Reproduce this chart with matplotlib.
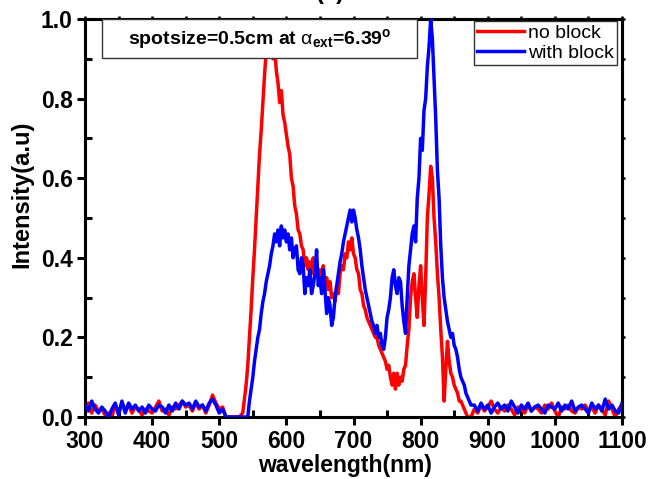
import numpy as np
import matplotlib
matplotlib.use("Agg")
import matplotlib.pyplot as plt
from matplotlib.patches import Rectangle

plt.rcParams['font.family'] = ['Liberation Sans', 'DejaVu Sans']
plt.rcParams['mathtext.fontset'] = 'custom'
plt.rcParams['mathtext.rm'] = 'Liberation Sans:bold'
plt.rcParams['mathtext.bf'] = 'Liberation Sans:bold'
plt.rcParams['mathtext.it'] = 'Liberation Sans'

# wavelength samples (nm): coarse on the flat baseline, finer across the emission band
wavelength = np.concatenate([np.arange(300, 540, 5),
                             np.arange(540, 877.5, 2.5),
                             np.arange(880, 1101, 5)])

# --- spectrum without the block ---
no_block_low = [
    0.02, 0.035, 0.01, 0.03, 0.015, 0.02, 0.005, 0.01, 0.0, 0.03,
    0.01, 0.035, 0.02, 0.03, 0.01, 0.025, 0.02, 0.005, 0.02, 0.015,
    0.01, 0.025, 0.04, 0.015, 0.02, 0.005, 0.025, 0.02, 0.03, 0.04,
    0.025, 0.03, 0.015, 0.035, 0.02, 0.03, 0.01, 0.03, 0.055, 0.035,
    0.02, 0.025,
    0.0, 0.0, 0.0, 0.0, 0.0, 0.01,
]
no_block_band = [
    0.08, 0.13, 0.2, 0.27, 0.35, 0.42, 0.5, 0.58, 0.66, 0.72,
    0.79, 0.86, 0.92, 0.97, 0.98, 0.94, 0.9, 0.93, 0.87, 0.84,
    0.79, 0.82, 0.76, 0.74, 0.71, 0.68, 0.66, 0.6, 0.58, 0.53,
    0.51, 0.47, 0.46, 0.43, 0.42, 0.38, 0.4, 0.37, 0.39, 0.36,
    0.4, 0.36, 0.38, 0.35, 0.37, 0.34, 0.38, 0.33, 0.35, 0.32,
    0.34, 0.3, 0.31, 0.29, 0.33, 0.31, 0.36, 0.38, 0.37, 0.41,
    0.4, 0.44, 0.42, 0.45, 0.41, 0.4, 0.37, 0.36, 0.32, 0.31,
    0.28, 0.27, 0.25, 0.24, 0.23, 0.22, 0.21, 0.2, 0.2, 0.18,
    0.17, 0.16, 0.15, 0.14, 0.12, 0.13, 0.1, 0.08, 0.11, 0.07,
    0.11, 0.08, 0.1, 0.09, 0.12, 0.13, 0.18, 0.22, 0.3, 0.34,
    0.36, 0.3, 0.25, 0.33, 0.38, 0.3, 0.23, 0.35, 0.5, 0.56,
    0.63, 0.6, 0.5, 0.44, 0.36, 0.3, 0.22, 0.15, 0.04, 0.12,
    0.19, 0.14, 0.11, 0.1, 0.08, 0.07, 0.06, 0.04, 0.04, 0.03,
    0.02, 0.01, 0.0, 0.0, 0.0,
]
no_block_high = [
    0.02, 0.01, 0.03, 0.015, 0.025, 0.04, 0.02, 0.01, 0.025, 0.015,
    0.03, 0.02, 0.005, 0.025, 0.02, 0.01, 0.03, 0.015, 0.025, 0.02,
    0.01, 0.03, 0.02, 0.035, 0.015, 0.0, 0.025, 0.02, 0.03, 0.015,
    0.01, 0.025, 0.02, 0.03, 0.015, 0.025, 0.01, 0.03, 0.02, 0.005,
    0.04, 0.02, 0.0, 0.02, 0.03,
]

# --- spectrum with the block ---
with_block_low = [
    0.03, 0.015, 0.04, 0.02, 0.01, 0.025, 0.015, 0.0, 0.02, 0.035,
    0.005, 0.04, 0.01, 0.035, 0.02, 0.03, 0.015, 0.025, 0.01, 0.03,
    0.02, 0.015, 0.03, 0.025, 0.01, 0.03, 0.015, 0.035, 0.02, 0.04,
    0.03, 0.035, 0.02, 0.04, 0.025, 0.03, 0.015, 0.035, 0.045, 0.03,
    0.01, 0.02,
    0.0, 0.0, 0.0, 0.0, 0.0, 0.0,
]
with_block_band = [
    0.0, 0.0, 0.04, 0.07, 0.1, 0.14, 0.17, 0.2, 0.22, 0.26,
    0.29, 0.31, 0.34, 0.36, 0.38, 0.41, 0.43, 0.46, 0.44, 0.47,
    0.43, 0.48, 0.45, 0.47, 0.44, 0.46, 0.42, 0.45, 0.4, 0.42,
    0.43, 0.37, 0.36, 0.4, 0.38, 0.31, 0.35, 0.33, 0.37, 0.31,
    0.33, 0.36, 0.42, 0.33, 0.35, 0.31, 0.37, 0.32, 0.26, 0.3,
    0.28, 0.23, 0.25, 0.3, 0.33, 0.36, 0.39, 0.41, 0.44, 0.46,
    0.48, 0.5, 0.52, 0.49, 0.52, 0.5, 0.47, 0.45, 0.42, 0.38,
    0.35, 0.32, 0.3, 0.28, 0.26, 0.24, 0.23, 0.21, 0.23, 0.2,
    0.21, 0.18, 0.17, 0.2, 0.25, 0.27, 0.3, 0.35, 0.37, 0.33,
    0.31, 0.35, 0.34, 0.28, 0.24, 0.21, 0.3, 0.38, 0.42, 0.46,
    0.48, 0.44, 0.55, 0.6, 0.7, 0.67, 0.77, 0.8, 0.88, 0.93,
    1.0, 0.95, 0.85, 0.75, 0.62, 0.55, 0.43, 0.35, 0.3, 0.27,
    0.24, 0.22, 0.2, 0.21, 0.18, 0.17, 0.15, 0.12, 0.1, 0.09,
    0.08, 0.06, 0.05, 0.04, 0.03,
]
with_block_high = [
    0.03, 0.015, 0.035, 0.02, 0.03, 0.01, 0.025, 0.035, 0.02, 0.03,
    0.015, 0.04, 0.025, 0.01, 0.03, 0.02, 0.035, 0.015, 0.025, 0.03,
    0.02, 0.01, 0.03, 0.025, 0.02, 0.035, 0.015, 0.03, 0.02, 0.04,
    0.015, 0.025, 0.03, 0.02, 0.01, 0.035, 0.02, 0.03, 0.015, 0.045,
    0.02, 0.03, 0.015, 0.01, 0.035,
]

no_block = no_block_low + no_block_band + no_block_high
with_block = with_block_low + with_block_band + with_block_high

x_ticks = [300, 400, 500, 600, 700, 800, 900, 1000, 1100]
y_ticks = [0.0, 0.2, 0.4, 0.6, 0.8, 1.0]

fig = plt.figure(figsize=(6.51, 4.79), dpi=100)
ax = fig.add_axes([85 / 651, 1 - 417 / 479, 537 / 651, 398 / 479])

ax.plot(wavelength, no_block, color='#ff0000', lw=2.5, label='no block', zorder=2)
ax.plot(wavelength, with_block, color='#0000ff', lw=2.5, label='with block', zorder=3)

ax.set_xlim(300, 1100)
ax.set_ylim(0, 1.0)
ax.set_xticks(x_ticks)
ax.set_yticks(y_ticks)
ax.set_xticks(np.arange(350, 1100, 100), minor=True)
ax.set_yticks([0.1, 0.3, 0.5, 0.7, 0.9], minor=True)
ax.set_xticklabels([str(v) for v in x_ticks])
ax.set_yticklabels([f'{v:.1f}' for v in y_ticks])

for sp in ax.spines.values():
    sp.set_linewidth(2.2)

ax.tick_params(which='major', direction='out', length=6, width=2.2,
               labelsize=16.5, pad=3)
ax.tick_params(which='minor', direction='in', length=5, width=2.2)
for lab in ax.get_xticklabels() + ax.get_yticklabels():
    lab.set_fontweight('bold')

# plain ticks on the top and right edges
top = ax.secondary_xaxis('top')
top.set_xticks(np.arange(300, 1101, 50))
top.tick_params(direction='out', length=2.5, width=1.8, labeltop=False)
top.spines['top'].set_linewidth(2.2)
right = ax.secondary_yaxis('right')
right.set_yticks(np.arange(0, 1.01, 0.1))
right.tick_params(direction='out', length=2.5, width=1.8, labelright=False)
right.spines['right'].set_linewidth(2.2)

ax.set_xlabel('wavelength(nm)', fontsize=16.5, fontweight='bold')
ax.xaxis.set_label_coords(0.485, -0.092)
ax.set_ylabel('Intensity(a.u)', fontsize=17, fontweight='bold')
ax.yaxis.set_label_coords(-0.097, 0.559)

# annotation box with the measurement settings
ax.add_patch(Rectangle((0.0317, 0.902), 0.586, 0.098, transform=ax.transAxes,
                       facecolor='white', edgecolor='#333333', lw=1.0,
                       zorder=5, clip_on=False))
ax.text(0.325, 0.951,
        r'spotsize=0.5cm at $\alpha_{\mathbf{ext}}$=6.39$^{\mathbf{o}}$',
        transform=ax.transAxes, ha='center', va='center', fontsize=14,
        fontweight='bold', zorder=6)

leg = ax.legend(loc='upper right', bbox_to_anchor=(0.991, 0.995),
                fontsize=14, frameon=True, fancybox=False, borderaxespad=0,
                handlelength=2.4, handletextpad=0.25, borderpad=0.15,
                labelspacing=0.15)
leg.get_frame().set_edgecolor('black')
leg.get_frame().set_linewidth(1.0)
leg.set_zorder(6)

fig.text(0.507, 1 + 1 / 479, '(a)', ha='center', va='baseline',
         fontsize=17, fontweight='bold')

fig.savefig('out.png', dpi=100)
